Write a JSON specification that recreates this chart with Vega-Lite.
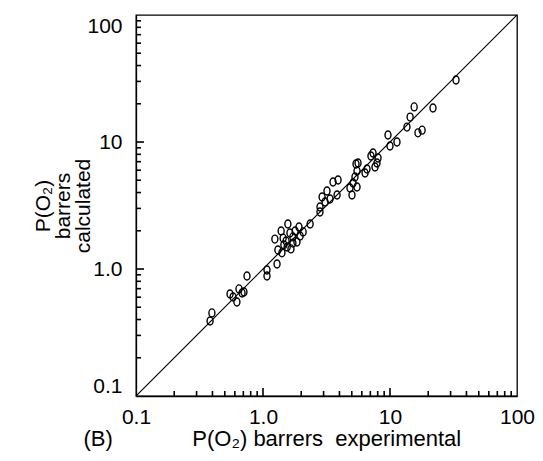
{
  "$schema": "https://vega.github.io/schema/vega-lite/v6.json",
  "width": 381,
  "height": 381,
  "autosize": "none",
  "padding": {"left": 136, "top": 15, "right": 26, "bottom": 65},
  "background": "white",
  "config": {
    "view": {"stroke": "black", "strokeWidth": 1.3},
    "font": "Liberation Sans",
    "axis": {
      "labelFont": "Liberation Sans",
      "titleFont": "Liberation Sans",
      "labelColor": "black",
      "titleColor": "black",
      "domainColor": "black",
      "ticks": false,
      "tickSize": 0,
      "grid": false,
      "labelFontSize": 21,
      "titleFontSize": 21,
      "titleFontWeight": "normal",
      "labelOverlap": false,
      "labelBound": false
    }
  },
  "datasets": {
    "points": [
      {"exp": 0.383, "calc": 0.39},
      {"exp": 0.396, "calc": 0.451},
      {"exp": 0.55, "calc": 0.635},
      {"exp": 0.581, "calc": 0.602},
      {"exp": 0.623, "calc": 0.55},
      {"exp": 0.647, "calc": 0.697},
      {"exp": 0.684, "calc": 0.647},
      {"exp": 0.708, "calc": 0.659},
      {"exp": 0.748, "calc": 0.881},
      {"exp": 1.075, "calc": 0.982},
      {"exp": 1.075, "calc": 0.881},
      {"exp": 1.29, "calc": 1.095},
      {"exp": 1.24, "calc": 1.72},
      {"exp": 1.31, "calc": 1.41},
      {"exp": 1.41, "calc": 1.34},
      {"exp": 1.39, "calc": 1.99},
      {"exp": 1.44, "calc": 1.75},
      {"exp": 1.57, "calc": 2.26},
      {"exp": 1.55, "calc": 1.49},
      {"exp": 1.63, "calc": 1.92},
      {"exp": 1.72, "calc": 1.6},
      {"exp": 1.72, "calc": 1.79},
      {"exp": 1.85, "calc": 1.63},
      {"exp": 1.92, "calc": 2.14},
      {"exp": 1.96, "calc": 1.82},
      {"exp": 2.07, "calc": 1.96},
      {"exp": 2.35, "calc": 2.26},
      {"exp": 1.46, "calc": 1.55},
      {"exp": 1.66, "calc": 1.44},
      {"exp": 1.52, "calc": 1.66},
      {"exp": 1.79, "calc": 1.99},
      {"exp": 2.81, "calc": 3.08},
      {"exp": 2.81, "calc": 2.81},
      {"exp": 2.92, "calc": 3.69},
      {"exp": 3.08, "calc": 3.37},
      {"exp": 3.19, "calc": 4.11},
      {"exp": 3.37, "calc": 3.56},
      {"exp": 3.56, "calc": 4.84},
      {"exp": 3.9, "calc": 5.02},
      {"exp": 3.83, "calc": 3.83},
      {"exp": 4.84, "calc": 4.34},
      {"exp": 5.02, "calc": 3.83},
      {"exp": 5.12, "calc": 4.75},
      {"exp": 5.5, "calc": 4.42},
      {"exp": 5.3, "calc": 5.3},
      {"exp": 5.5, "calc": 5.91},
      {"exp": 5.4, "calc": 6.71},
      {"exp": 5.6, "calc": 6.84},
      {"exp": 6.59, "calc": 6.13},
      {"exp": 6.36, "calc": 5.7},
      {"exp": 7.35, "calc": 8.19},
      {"exp": 7.9, "calc": 6.84},
      {"exp": 8.05, "calc": 7.48},
      {"exp": 7.62, "calc": 6.36},
      {"exp": 7.08, "calc": 7.76},
      {"exp": 9.64, "calc": 11.35},
      {"exp": 10.0, "calc": 9.31},
      {"exp": 11.35, "calc": 10.0},
      {"exp": 13.6, "calc": 13.1},
      {"exp": 14.4, "calc": 15.7},
      {"exp": 15.5, "calc": 18.9},
      {"exp": 16.6, "calc": 11.8},
      {"exp": 17.9, "calc": 12.4},
      {"exp": 21.8, "calc": 18.5},
      {"exp": 33.1, "calc": 30.8}
    ],
    "diag": [
      {"exp": 0.1, "calc": 0.1},
      {"exp": 100, "calc": 100}
    ],
    "minorTicks": [
      {"v": 0.2}, {"v": 0.3}, {"v": 0.4}, {"v": 0.5}, {"v": 0.6},
      {"v": 0.7}, {"v": 0.8}, {"v": 0.9},
      {"v": 2}, {"v": 3}, {"v": 4}, {"v": 5}, {"v": 6},
      {"v": 7}, {"v": 8}, {"v": 9},
      {"v": 20}, {"v": 30}, {"v": 40}, {"v": 50}, {"v": 60},
      {"v": 70}, {"v": 80}, {"v": 90}
    ],
    "majorTicks": [
      {"v": 1}, {"v": 10}
    ]
  },
  "layer": [
    {
      "data": {"name": "diag"},
      "mark": {"type": "line", "color": "black", "strokeWidth": 1.2, "clip": true},
      "encoding": {
        "x": {"field": "exp", "type": "quantitative"},
        "y": {"field": "calc", "type": "quantitative"}
      }
    },
    {
      "data": {"name": "minorTicks"},
      "mark": {"type": "rule", "color": "black", "strokeWidth": 1.6},
      "encoding": {
        "x": {"field": "v", "type": "quantitative"},
        "y": {"datum": 0.1, "type": "quantitative"},
        "y2": {"datum": 0.1095}
      }
    },
    {
      "data": {"name": "majorTicks"},
      "mark": {"type": "rule", "color": "black", "strokeWidth": 1.6},
      "encoding": {
        "x": {"field": "v", "type": "quantitative"},
        "y": {"datum": 0.1, "type": "quantitative"},
        "y2": {"datum": 0.1156}
      }
    },
    {
      "data": {"name": "minorTicks"},
      "mark": {"type": "rule", "color": "black", "strokeWidth": 1.6},
      "encoding": {
        "y": {"field": "v", "type": "quantitative"},
        "x": {"datum": 0.1, "type": "quantitative"},
        "x2": {"datum": 0.1095}
      }
    },
    {
      "data": {"name": "majorTicks"},
      "mark": {"type": "rule", "color": "black", "strokeWidth": 1.6},
      "encoding": {
        "y": {"field": "v", "type": "quantitative"},
        "x": {"datum": 0.1, "type": "quantitative"},
        "x2": {"datum": 0.1156}
      }
    },
    {
      "data": {"name": "points"},
      "mark": {
        "type": "point",
        "filled": false,
        "shape": "M -0.75 0 A 0.75 1 0 1 0 0.75 0 A 0.75 1 0 1 0 -0.75 0 Z",
        "size": 64,
        "stroke": "black",
        "strokeWidth": 1.4,
        "opacity": 1
      },
      "encoding": {
        "x": {
          "field": "exp",
          "type": "quantitative",
          "scale": {"type": "log", "domain": [0.1, 100], "nice": false},
          "axis": {
            "values": [0.1, 1, 10, 100],
            "labelExpr": "datum.value == 0.1 ? '0.1' : datum.value == 1 ? '1.0' : datum.value == 10 ? '10' : '100'",
            "domainWidth": 1.3,
            "labelPadding": 10,
            "labelFlush": false,
            "title": "(B)\u00a0\u00a0\u00a0\u00a0\u00a0\u00a0\u00a0\u00a0\u00a0\u00a0\u00a0\u00a0\u00a0P(O\u2082) barrers\u00a0\u00a0experimental",
            "titleAlign": "left",
            "titleX": -53,
            "titleY": 49,
            "titleBaseline": "alphabetic",
            "titleFontSize": 22
          }
        },
        "y": {
          "field": "calc",
          "type": "quantitative",
          "scale": {"type": "log", "domain": [0.1, 100], "nice": false},
          "axis": {
            "values": [0.1, 1, 10, 100],
            "labelExpr": "datum.value == 0.1 ? '0.1' : datum.value == 1 ? '1.0' : datum.value == 10 ? '10' : '100'",
            "domainWidth": 1.3,
            "labelPadding": 14,
            "labelFlush": true,
            "title": ["P(O\u2082)", "barrers", "calculated"],
            "titleLineHeight": 20,
            "titlePadding": -7,
            "titleFontSize": 21
          }
        }
      }
    }
  ]
}
